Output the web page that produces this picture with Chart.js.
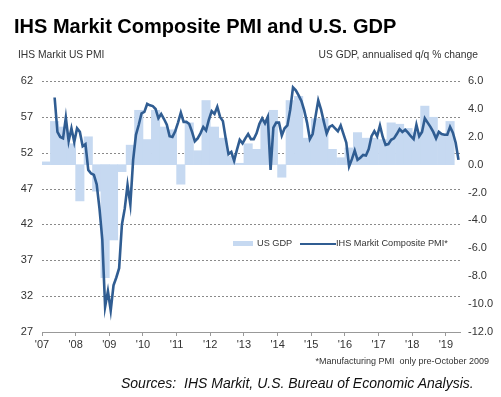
<!DOCTYPE html>
<html lang="en">

<head>
    <meta charset="UTF-8">
    <title>IHS Markit Composite PMI and U.S. GDP</title>
    <script src="https://cdn.jsdelivr.net/npm/chart.js"></script>
    <style>
        body { margin: 0; background: #fff; font-family: "Liberation Sans", Arial, sans-serif; }
        #wrap { position: relative; width: 501px; height: 397px; }
        #myChart { position: absolute; left: 0; top: 0; }
        .txt { position: absolute; white-space: nowrap; color: #222; }
        #title { left: 14px; top: 15px; font-size: 20px; font-weight: bold; line-height: 22px; color: #000; }
        #subL { left: 18px; top: 49px; font-size: 10.3px; line-height: 12px; color: #333; }
        #subR { right: 23px; top: 49px; font-size: 10.3px; line-height: 12px; color: #333; }
        #note { right: 12px; top: 356px; font-size: 9px; line-height: 11px; color: #333; }
        #src { left: 121px; top: 375px; font-size: 14px; font-style: italic; line-height: 17px; color: #111; }
        .lg { position: absolute; font-size: 9.2px; line-height: 11px; color: #333; top: 238px; }
        .sw { position: absolute; }
    </style>
</head>

<body>
    <div id="wrap">
        <canvas id="myChart" width="501" height="397"></canvas>
        <div class="txt" id="title">IHS Markit Composite PMI and U.S. GDP</div>
        <div class="txt" id="subL">IHS Markit US PMI</div>
        <div class="txt" id="subR">US GDP, annualised q/q % change</div>
        <!-- legend -->
        <div class="sw" style="left:233px;top:241px;width:20px;height:5px;background:#c6d9f1;"></div>
        <div class="lg" style="left:257px;">US GDP</div>
        <div class="sw" style="left:300px;top:243px;width:36px;height:2px;background:#305d92;"></div>
        <div class="lg" style="left:336px;">IHS Markit Composite PMI*</div>
        <div class="txt" id="note">*Manufacturing PMI&nbsp; only pre-October 2009</div>
        <div class="txt" id="src">Sources:&nbsp; IHS Markit, U.S. Bureau of Economic Analysis.</div>
    </div>

    <script>
        // PMI monthly, May 2007 .. May 2019
        var pmiStart = 2007 + 4 / 12; // May 2007
        var pmi2007 = [59.7, 54.9, 54.2, 54.0, 56.9, 53.6, 55.4, 53.5];
        var pmi2008 = [55.4, 54.9, 52.9, 53.2, 49.6, 49.1, 48.9, 47.6, 44.2, 39.9, 30.5, 32.7];
        var pmi2009 = [30.0, 33.5, 34.6, 35.9, 42.0, 44.2, 47.5, 44.8, 51.0, 54.5, 55.9, 57.5];
        var pmi2010 = [57.7, 58.8, 58.6, 58.5, 58.1, 56.8, 57.4, 56.7, 55.9, 54.3, 54.2, 55.0];
        var pmi2011 = [56.2, 57.6, 56.3, 56.3, 56.0, 54.9, 53.6, 54.0, 54.7, 55.6, 55.1, 56.6];
        var pmi2012 = [57.8, 57.4, 58.4, 57.0, 56.4, 54.0, 51.8, 52.1, 50.9, 52.4, 53.8, 53.3];
        var pmi2013 = [54.0, 54.6, 53.9, 53.9, 54.7, 56.0, 56.8, 56.1, 57.0, 49.6, 55.5, 56.2];
        var pmi2014 = [56.2, 54.4, 55.4, 55.8, 58.0, 61.1, 60.7, 60.0, 59.2, 57.9, 56.2, 53.9];
        var pmi2015 = [54.6, 57.0, 59.3, 58.0, 56.3, 54.7, 55.6, 55.8, 55.4, 55.0, 55.8, 54.6];
        var pmi2016 = [53.4, 50.1, 51.1, 52.3, 51.0, 51.3, 51.7, 51.6, 52.5, 54.3, 55.0, 54.3];
        var pmi2017 = [55.8, 54.2, 53.1, 53.2, 53.8, 54.0, 54.6, 55.3, 54.9, 55.2, 54.8, 54.3];
        var pmi2018 = [53.9, 55.9, 54.3, 54.9, 56.8, 56.2, 55.6, 54.9, 54.0, 54.9, 54.6, 54.5];
        var pmi2019 = [54.5, 55.6, 54.8, 53.4, 51.0];

        // US GDP quarterly, Q1 2007 .. Q1 2019
        var gdpStart = 2007;
        var gdp = [
            0.2, 3.1, 2.7, 1.5,
            -2.6, 2.0, -1.9, -8.1,
            -5.4, -0.5, 1.4, 3.9,
            1.8, 3.9, 2.7, 2.5,
            -1.4, 3.0, 1.0, 4.6,
            2.7, 1.9, 0.6, 0.1,
            1.5, 1.1, 3.1, 3.9,
            -0.9, 4.6, 4.9, 1.9,
            3.3, 3.3, 1.1, 0.5,
            1.2, 2.3, 1.9, 1.9,
            1.8, 3.0, 2.9, 2.6,
            2.3, 4.2, 3.4, 2.2,
            3.1
        ];

        var pmiTicks = [27, 32, 37, 42, 47, 52, 57, 62];
        var gdpTicks = [-12, -10, -8, -6, -4, -2, 0, 2, 4, 6];
        var yearTicks = [2007, 2008, 2009, 2010, 2011, 2012, 2013, 2014, 2015, 2016, 2017, 2018, 2019];

        var pmiAll = [].concat(pmi2007, pmi2008, pmi2009, pmi2010, pmi2011, pmi2012, pmi2013,
            pmi2014, pmi2015, pmi2016, pmi2017, pmi2018, pmi2019);

        // point at middle of each month / quarter
        var pmiPoints = pmiAll.map(function (v, i) {
            return { x: pmiStart + (i + 0.5) / 12, y: v };
        });
        var gdpPoints = gdp.map(function (v, i) {
            return { x: gdpStart + (i + 0.5) / 4, y: v };
        });

        // dashed horizontal grid (drawn under the data)
        var dashGrid = {
            id: 'dashGrid',
            beforeDatasetsDraw: function (chart) {
                var c = chart.ctx, a = chart.chartArea, s = chart.scales.y;
                c.save();
                c.strokeStyle = '#8a8a8a';
                c.lineWidth = 1;
                c.setLineDash([2, 2]);
                pmiTicks.forEach(function (v) {
                    if (v === 27) return;
                    var py = Math.round(s.getPixelForValue(v)) + 0.5;
                    c.beginPath();
                    c.moveTo(a.left, py);
                    c.lineTo(a.right, py);
                    c.stroke();
                });
                c.restore();
            }
        };

        Chart.defaults.font.family = '"Liberation Sans", Arial, sans-serif';
        Chart.defaults.color = '#333';

        var ctx = document.getElementById('myChart');
        var myChart = new Chart(ctx, {
            type: 'bar',
            data: {
                datasets: [{
                    type: 'line',
                    label: 'IHS Markit Composite PMI*',
                    data: pmiPoints,
                    yAxisID: 'y',
                    borderColor: '#305d92',
                    borderWidth: 2.6,
                    pointRadius: 0,
                    tension: 0,
                    order: 0
                }, {
                    type: 'bar',
                    label: 'US GDP',
                    data: gdpPoints,
                    yAxisID: 'y2',
                    backgroundColor: '#c6d9f1',
                    borderWidth: 0,
                    barPercentage: 1,
                    categoryPercentage: 1,
                    order: 1
                }]
            },
            plugins: [dashGrid],
            options: {
                responsive: false,
                animation: false,
                layout: { padding: { top: 81, bottom: 0, left: 0, right: 0 } },
                plugins: {
                    legend: { display: false },
                    tooltip: { enabled: false }
                },
                scales: {
                    x: {
                        type: 'linear',
                        min: 2007,
                        max: 2019.42,
                        offset: false,
                        afterFit: function (s) { s.height = 65; },
                        afterBuildTicks: function (s) {
                            s.ticks = yearTicks.map(function (v) { return { value: v }; });
                        },
                        ticks: {
                            padding: 2,
                            maxRotation: 0,
                            font: { size: 11 },
                            color: '#333',
                            callback: function (v) { return "'" + String(v).slice(2); }
                        },
                        grid: { drawOnChartArea: false, drawTicks: true, tickLength: 4, color: '#999', offset: false },
                        border: { display: true, color: '#999', width: 1 }
                    },
                    y: {
                        position: 'left',
                        min: 27,
                        max: 62,
                        afterFit: function (s) { s.width = 42; },
                        afterBuildTicks: function (s) {
                            s.ticks = pmiTicks.map(function (v) { return { value: v }; });
                        },
                        ticks: { padding: 9, font: { size: 11 }, color: '#333' },
                        grid: { display: false, drawTicks: false },
                        border: { display: false }
                    },
                    y2: {
                        position: 'right',
                        min: -12,
                        max: 6,
                        afterFit: function (s) { s.width = 41; },
                        afterBuildTicks: function (s) {
                            s.ticks = gdpTicks.map(function (v) { return { value: v }; });
                        },
                        ticks: {
                            padding: 8,
                            font: { size: 11 },
                            color: '#333',
                            callback: function (v) { return v.toFixed(1); }
                        },
                        grid: { display: false, drawTicks: false },
                        border: { display: false }
                    }
                }
            }
        });
    </script>
</body>

</html>
